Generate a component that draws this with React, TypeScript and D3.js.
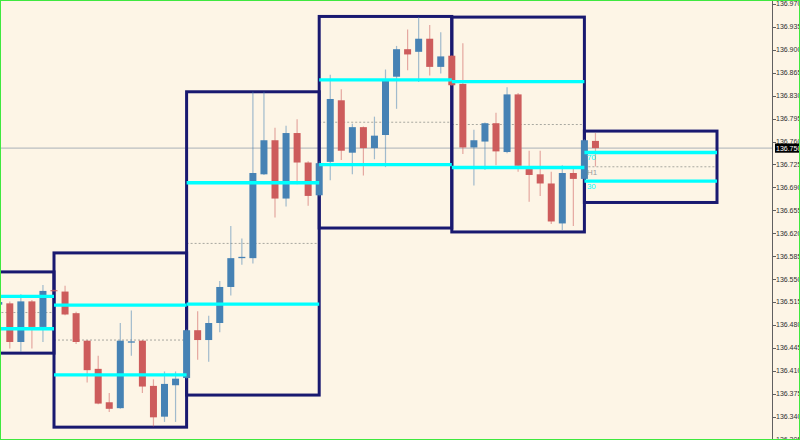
import React from "react";
import * as d3 from "d3";

// ---- data ----
const firstIndex = -5;
const opens = [
  136.511, 136.513, 136.454, 136.516, 136.477,
  136.533, 136.531, 136.498, 136.456, 136.413, 136.362, 136.353, 136.453, 136.456, 136.387, 136.340, 136.388,
  136.399, 136.472, 136.457, 136.483, 136.538, 136.582, 136.582, 136.710, 136.762, 136.673, 136.773, 136.728,
  136.678, 136.729, 136.823, 136.743, 136.782, 136.750, 136.770, 136.859, 136.901, 136.897, 136.917, 136.874,
  136.891, 136.848, 136.751, 136.760, 136.788, 136.744, 136.832, 136.718, 136.710, 136.696, 136.635, 136.712,
  136.703, 136.761,
];
const highs = [
  136.516, 136.516, 136.527, 136.518, 136.541,
  136.534, 136.540, 136.500, 136.457, 136.433, 136.376, 136.483, 136.502, 136.457, 136.397, 136.409, 136.409,
  136.474, 136.501, 136.494, 136.547, 136.631, 136.612, 136.836, 136.836, 136.781, 136.784, 136.794, 136.730,
  136.730, 136.862, 136.840, 136.787, 136.783, 136.798, 136.870, 136.906, 136.931, 136.950, 136.938, 136.927,
  136.892, 136.910, 136.778, 136.789, 136.804, 136.843, 136.834, 136.746, 136.746, 136.714, 136.724, 136.721,
  136.764, 136.773,
];
const lows = [
  136.510, 136.444, 136.439, 136.444, 136.454,
  136.531, 136.495, 136.451, 136.392, 136.359, 136.347, 136.352, 136.433, 136.376, 136.325, 136.332, 136.332,
  136.397, 136.427, 136.424, 136.469, 136.525, 136.572, 136.574, 136.709, 136.644, 136.661, 136.695, 136.662,
  136.676, 136.701, 136.732, 136.710, 136.708, 136.733, 136.721, 136.810, 136.869, 136.851, 136.861, 136.864,
  136.845, 136.741, 136.693, 136.717, 136.724, 136.742, 136.714, 136.668, 136.677, 136.634, 136.625, 136.631,
  136.701, 136.722,
];
const closes = [
  136.515, 136.454, 136.516, 136.477, 136.532,
  136.532, 136.496, 136.454, 136.411, 136.360, 136.352, 136.456, 136.455, 136.386, 136.339, 136.390, 136.398,
  136.472, 136.457, 136.483, 136.538, 136.582, 136.584, 136.712, 136.762, 136.673, 136.773, 136.728, 136.677,
  136.727, 136.825, 136.746, 136.782, 136.750, 136.769, 136.854, 136.901, 136.893, 136.917, 136.874, 136.890,
  136.846, 136.751, 136.762, 136.788, 136.745, 136.832, 136.723, 136.709, 136.696, 136.638, 136.712, 136.703,
  136.762, 136.750,
];

const boxStarts = [-12, 0, 12, 24, 36, 48];
const boxHighs = [136.561, 136.590, 136.836, 136.951, 136.950, 136.776];
const boxLows = [136.437, 136.324, 136.373, 136.628, 136.622, 136.667];
const barsPerBox = 12;
const levelLabels = ["70", "H1", "30"];

const priceTicks = [
  136.305, 136.34, 136.375, 136.41, 136.445, 136.48, 136.515, 136.55, 136.585, 136.62,
  136.655, 136.69, 136.725, 136.76, 136.795, 136.83, 136.865, 136.9, 136.935, 136.97,
];
const currentPrice = 136.75;

// ---- styles ----
const W = 800;
const H = 440;
const BG = "#FDF5E6";
const BULL = "#4682B4";
const BEAR = "#CD5C5C";
const BOX = "#191970";
const LEVEL = "#00FFFF";
const AXIS_X = 772;

export default function App() {
  const x = d3.scaleLinear().domain([0, 60]).range([54, 717]);
  const y = d3.scaleLinear().domain([136.305, 136.97]).range([439.6, 4]);
  const fmt = d3.format(".3f");
  const bodyW = 7;

  const candles = opens.map((o, k) => ({
    i: firstIndex + k,
    o,
    h: highs[k],
    l: lows[k],
    c: closes[k],
  }));

  const boxes = boxStarts.map((s, k) => {
    const hi = boxHighs[k];
    const lo = boxLows[k];
    const r = hi - lo;
    return {
      x0: x(s),
      x1: x(s + barsPerBox),
      hi,
      lo,
      l70: hi - 0.3 * r,
      l50: hi - 0.5 * r,
      l30: hi - 0.7 * r,
      last: k === boxStarts.length - 1,
    };
  });

  return (
    <svg
      width={W}
      height={H}
      style={{ position: "absolute", left: 0, top: 0, display: "block" }}
      fontFamily="'Liberation Sans', Arial, sans-serif"
    >
      <rect x={0} y={0} width={W} height={H} fill={BG} />
      <defs>
        <clipPath id="plot">
          <rect x={0} y={0} width={AXIS_X} height={H} />
        </clipPath>
      </defs>

      {/* current price line */}
      <line x1={0} x2={AXIS_X} y1={y(currentPrice)} y2={y(currentPrice)} stroke="#A9B0B8" strokeWidth={1} />

      <g clipPath="url(#plot)">
        {/* mid dotted lines */}
        {boxes.map((b, k) => (
          <line key={"m" + k} x1={b.x0} x2={b.x1} y1={y(b.l50)} y2={y(b.l50)} stroke="#A8A8A0" strokeWidth={1} strokeDasharray="2,2" />
        ))}
        {/* boxes */}
        {boxes.map((b, k) => (
          <rect key={"b" + k} x={b.x0} y={y(b.hi)} width={b.x1 - b.x0} height={y(b.lo) - y(b.hi)} fill="none" stroke={BOX} strokeWidth={3} />
        ))}
        {/* candles */}
        {candles.map((d) => {
          const up = d.c >= d.o;
          const col = up ? BULL : BEAR;
          const cx = x(d.i);
          const top = y(Math.max(d.o, d.c));
          const bot = y(Math.min(d.o, d.c));
          return (
            <g key={"c" + d.i}>
              <line x1={cx} x2={cx} y1={y(d.h)} y2={y(d.l)} stroke={col} strokeOpacity={0.5} strokeWidth={1.2} />
              <rect x={cx - bodyW / 2} y={top} width={bodyW} height={Math.max(1, bot - top)} fill={col} />
            </g>
          );
        })}
        {/* level lines */}
        {boxes.map((b, k) => (
          <g key={"l" + k}>
            <line x1={b.x0} x2={b.x1} y1={y(b.l70)} y2={y(b.l70)} stroke={LEVEL} strokeWidth={3.3} />
            <line x1={b.x0} x2={b.x1} y1={y(b.l30)} y2={y(b.l30)} stroke={LEVEL} strokeWidth={3.3} />
          </g>
        ))}
        {boxes
          .filter((b) => b.last)
          .map((b, k) => (
            <g key={"t" + k} fontSize={8}>
              <text x={b.x0 + 2.5} y={y(b.l70) + 8} fill={LEVEL}>{levelLabels[0]}</text>
              <text x={b.x0 + 2.5} y={y(b.l50) + 8} fill="#9A9A9A">{levelLabels[1]}</text>
              <text x={b.x0 + 2.5} y={y(b.l30) + 8} fill={LEVEL}>{levelLabels[2]}</text>
            </g>
          ))}
      </g>

      {/* right price axis */}
      <line x1={AXIS_X + 0.5} x2={AXIS_X + 0.5} y1={0} y2={H} stroke="#606060" strokeWidth={1} />
      {priceTicks.map((t) => (
        <g key={"pt" + t}>
          <line x1={AXIS_X} x2={AXIS_X + 4} y1={Math.round(y(t)) + 0.5} y2={Math.round(y(t)) + 0.5} stroke="#606060" />
          <text x={776} y={y(t)} dy="0.35em" fontSize={7} fill="#303030">{fmt(t)}</text>
        </g>
      ))}
      <rect x={775} y={y(currentPrice) - 4.6} width={25} height={9.2} fill="#000" />
      <text x={776} y={y(currentPrice)} dy="0.35em" fontSize={7} fill="#fff">{fmt(currentPrice)}</text>

      {/* window border */}
      <rect x={0.5} y={0.5} width={W - 1} height={H - 1} fill="none" stroke="#3FE83F" strokeWidth={1} />
    </svg>
  );
}
